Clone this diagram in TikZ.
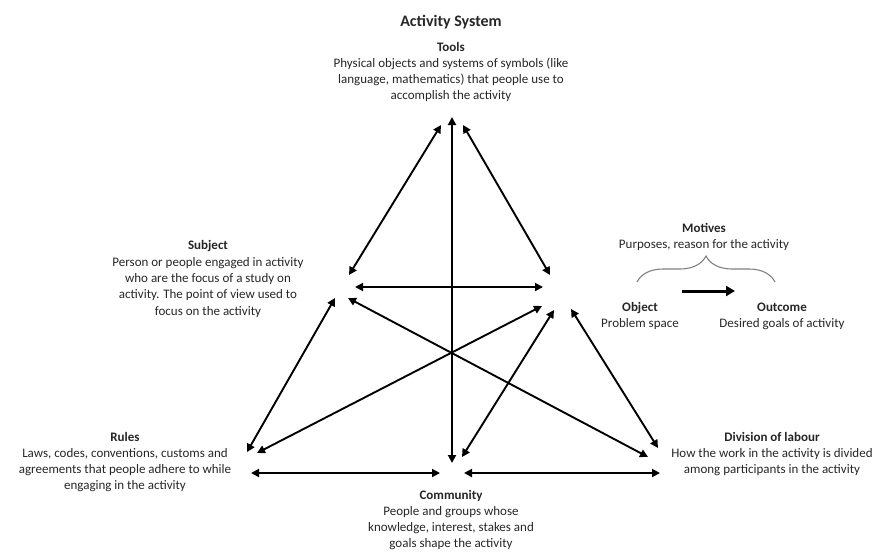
\documentclass[tikz,border=0pt]{standalone}
\usepackage{fontspec}
\setmainfont{Carlito}
\usetikzlibrary{arrows.meta,decorations.pathreplacing}
\begin{document}
\begin{tikzpicture}[x=1pt,y=-1pt,
  txt/.style={align=center,inner sep=0pt,text=black!85,font=\fontsize{13}{16.3}\selectfont},
  link/.style={line width=1.9pt,{Triangle[length=8pt,width=8pt]}-{Triangle[length=8pt,width=8pt]}},
  flow/.style={line width=3pt,-{Triangle[length=9pt,width=10pt]}}]
\useasboundingbox (0,0) rectangle (877,551);

% titles and labels
\node[txt,font=\bfseries\fontsize{16}{18}\selectfont] (title) at (451,22) {Activity System};
\node[txt] (tools) at (451,72) {\textbf{Tools}\\Physical objects and systems of symbols (like\\language, mathematics) that people use to\\accomplish the activity};
\node[txt] (subject) at (208,279) {\textbf{Subject}\\Person or people engaged in activity\\who are the focus of a study on\\activity. The point of view used to\\focus on the activity};
\node[txt] (rules) at (125,462) {\textbf{Rules}\\Laws, codes, conventions, customs and\\agreements that people adhere to while\\engaging in the activity};
\node[txt] (division) at (772,454) {\textbf{Division of labour}\\How the work in the activity is divided\\among participants in the activity};
\node[txt] (community) at (451,520) {\textbf{Community}\\People and groups whose\\knowledge, interest, stakes and\\goals shape the activity};
\node[txt] (motives) at (704,237) {\textbf{Motives}\\Purposes, reason for the activity};
\node[txt] (object) at (640,316) {\textbf{Object}\\Problem space};
\node[txt] (outcome) at (782,316) {\textbf{Outcome}\\Desired goals of activity};

% connector end points around each corner of the triangle
\coordinate (T0) at (452,117);
\coordinate (TL) at (441,125);
\coordinate (TR) at (463,125);
\coordinate (S1) at (349,275);
\coordinate (S2) at (355,287);
\coordinate (S3) at (335,298);
\coordinate (S4) at (348,298);
\coordinate (O1) at (550,275);
\coordinate (O2) at (543,287);
\coordinate (O3) at (542,306);
\coordinate (O4) at (554,310);
\coordinate (O5) at (571,309);
\coordinate (R1) at (247,452);
\coordinate (R2) at (257,453);
\coordinate (R3) at (251,473);
\coordinate (C0) at (452,463);
\coordinate (C1) at (462,457);
\coordinate (C2) at (440,473);
\coordinate (C3) at (464,473);
\coordinate (D1) at (648,457);
\coordinate (D2) at (658,448);
\coordinate (D3) at (660,473);

% mediating relations
\draw[link] (TL) -- (S1);
\draw[link] (TR) -- (O1);
\draw[link] (T0) -- (C0);
\draw[link] (S2) -- (O2);
\draw[link] (S3) -- (R1);
\draw[link] (S4) -- (D1);
\draw[link] (O3) -- (R2);
\draw[link] (O4) -- (C1);
\draw[link] (O5) -- (D2);
\draw[link] (R3) -- (C2);
\draw[link] (C3) -- (D3);

% motives brace and object-to-outcome arrow
\coordinate (bl) at (637,282);
\coordinate (br) at (775,282);
\draw[black!50,line width=1.1pt,decorate,decoration={brace,amplitude=26pt,aspect=0.5}] (bl) -- (br);
\coordinate (fa) at (682,291);
\coordinate (fb) at (735,291);
\draw[flow] (fa) -- (fb);
\end{tikzpicture}
\end{document}
